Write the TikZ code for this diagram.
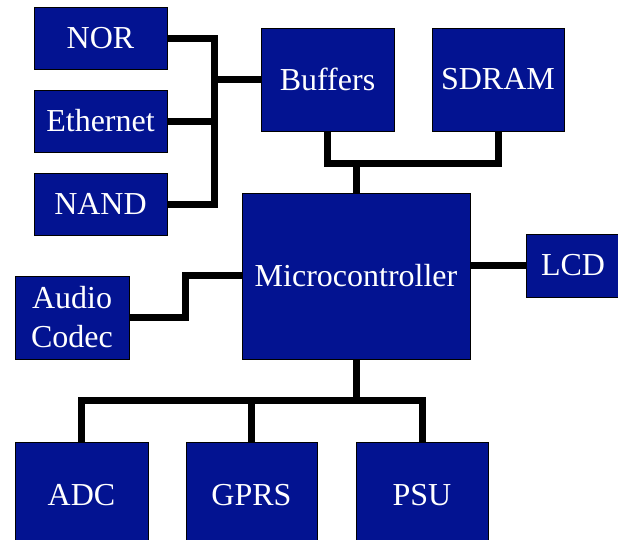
\documentclass[tikz,border=0pt]{standalone}
\usepackage{fontspec}
\setmainfont{Liberation Serif}
\usetikzlibrary{backgrounds}
\definecolor{boxblue}{RGB}{3,19,145}
\tikzset{
  blk/.style={draw=black, line width=1pt, fill=boxblue, text=white, inner sep=0pt, outer sep=0pt,
    font=\fontsize{32}{39}\selectfont, align=center},
  wire/.style={draw=black, line width=7pt}
}
\begin{document}
\begin{tikzpicture}[x=1pt,y=-1pt]
\clip (0,0) rectangle (618,539);
\node[blk, minimum width=133pt, minimum height=62pt] (nor) at (100.5,38) {NOR};
\node[blk, minimum width=133pt, minimum height=62pt] (eth) at (100.5,121) {Ethernet};
\node[blk, minimum width=133pt, minimum height=62pt] (nand) at (100.5,204) {NAND};
\node[blk, minimum width=133pt, minimum height=103pt] (buf) at (327.5,79.5) {Buffers};
\node[blk, minimum width=132pt, minimum height=103pt] (sdram) at (498,79.5) {SDRAM};
\node[blk, minimum width=228pt, minimum height=166pt] (mcu) at (356,276) {Microcontroller};
\node[blk, minimum width=94pt, minimum height=63pt] (lcd) at (573,265.5) {LCD};
\node[blk, minimum width=114pt, minimum height=83pt] (audio) at (72,317.5) {Audio\\Codec};
\node[blk, minimum width=133pt, minimum height=106pt] (adc) at (81.5,495) {ADC};
\node[blk, minimum width=131pt, minimum height=106pt] (gprs) at (251.5,495) {GPRS};
\node[blk, minimum width=132pt, minimum height=106pt] (psu) at (422,495) {PSU};
\coordinate (lbus) at (214,79.5);
\coordinate (tbus) at (356,163);
\coordinate (ajog) at (185,296);
\coordinate (amcu) at (242,275);
\coordinate (bbus) at (356,400);
\begin{scope}[on background layer]
\fill[white] (0,0) rectangle (618,539);
\draw[wire] (nor.east) -| (lbus) |- (nand.east);
\draw[wire] (eth.east) -- (eth.east -| lbus);
\draw[wire] (lbus) -- (buf.west);
\draw[wire] (buf.south) |- (tbus) -| (sdram.south);
\draw[wire] (tbus) -- (mcu.north);
\draw[wire] (mcu.east |- lcd.west) -- (lcd.west);
\draw[wire] (audio.east) -| (ajog) |- (amcu);
\draw[wire] (mcu.south) -- (bbus);
\draw[wire] (adc.north) |- (bbus) -| (psu.north);
\draw[wire] (gprs.north) -- (gprs.north |- bbus);
\end{scope}
\end{tikzpicture}
\end{document}
